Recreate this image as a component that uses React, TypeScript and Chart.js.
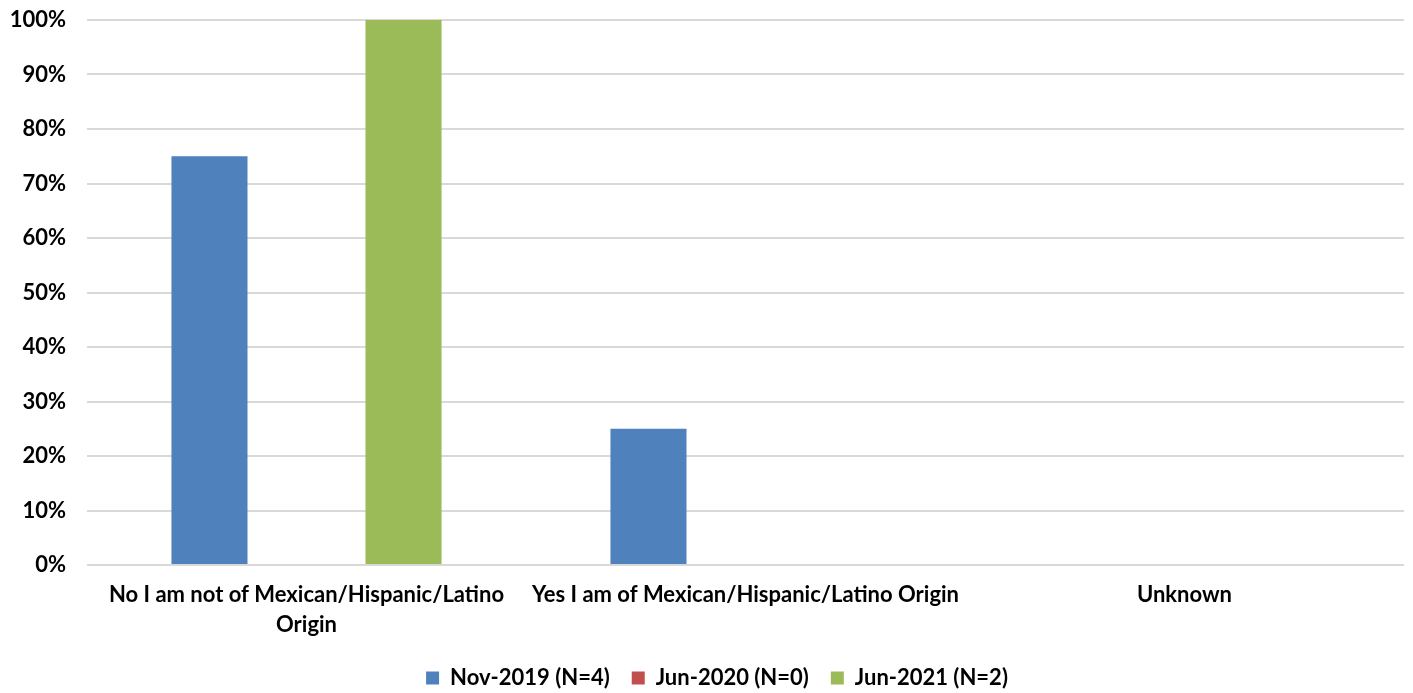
import React, { useEffect, useRef } from "react";
import { Chart, registerables } from "chart.js";

Chart.register(...registerables);

const categories: (string | string[])[] = [
  ["No I am not of Mexican/Hispanic/Latino", "Origin"],
  "Yes I am of Mexican/Hispanic/Latino Origin",
  "Unknown",
];
const seriesNames = ["Nov-2019 (N=4)", "Jun-2020 (N=0)", "Jun-2021 (N=2)"];
const nov2019 = [75, 25, 0];
const jun2020 = [0, 0, 0];
const jun2021 = [100, 0, 0];
const colors = ["#4F81BD", "#C0504D", "#9BBB59"];
const yTicks = [0, 10, 20, 30, 40, 50, 60, 70, 80, 90, 100];

const FONT = "Lato, 'Open Sans', sans-serif";
const LEGEND_HEIGHT = 48;
const LEGEND_SHIFT = 15;

const legendHeightPlugin = {
  id: "legendHeight",
  beforeLayout(chart: any) {
    const lg = chart.legend;
    if (lg && !lg.__patched) {
      const orig = lg.fit;
      lg.fit = function () {
        orig.call(this);
        this.height = LEGEND_HEIGHT;
      };
      lg.__patched = true;
    }
  },
  afterLayout(chart: any) {
    const lg = chart.legend;
    if (lg) {
      lg.left += LEGEND_SHIFT;
      lg.right += LEGEND_SHIFT;
    }
  },
};

export default function App() {
  const ref = useRef<HTMLCanvasElement | null>(null);
  useEffect(() => {
    if (!ref.current) return;
    const values = [nov2019, jun2020, jun2021];
    const chart = new Chart(ref.current, {
      type: "bar",
      data: {
        labels: categories,
        datasets: seriesNames.map((n, i) => ({
          label: n,
          data: values[i],
          backgroundColor: colors[i],
          borderWidth: 0,
          categoryPercentage: 0.663,
          barPercentage: 0.784,
        })),
      },
      plugins: [legendHeightPlugin],
      options: {
        animation: false,
        responsive: false,
        maintainAspectRatio: false,
        layout: { padding: { top: 20, right: 9, bottom: 0, left: 0 } },
        plugins: {
          legend: {
            position: "bottom",
            labels: {
              boxWidth: 13,
              boxHeight: 13,
              padding: 22,
              color: "#000",
              font: { family: FONT, size: 22, weight: "bold" },
            },
          },
          tooltip: { enabled: false },
        },
        scales: {
          x: {
            grid: { display: false, drawTicks: false },
            border: { display: false },
            ticks: {
              color: "#000",
              maxRotation: 0,
              autoSkip: false,
              padding: 15,
              font: { family: FONT, size: 22, weight: "bold", lineHeight: 1.36 },
            },
            afterFit: (s: any) => {
              s.height = 80;
            },
          },
          y: {
            min: 0,
            max: 100,
            afterBuildTicks: (s: any) => {
              s.ticks = yTicks.map((v) => ({ value: v }));
            },
            grid: { color: "#D9D9D9", lineWidth: 2, drawTicks: false },
            border: { display: false },
            ticks: {
              color: "#000",
              padding: 21,
              font: { family: FONT, size: 22, weight: "bold" },
              callback: (v: any) => v + "%",
            },
            afterFit: (s: any) => {
              s.width = 87;
              s.paddingTop = 12;
              s.paddingBottom = 12;
            },
          },
        },
      },
    });
    return () => chart.destroy();
  }, []);
  return (
    <div style={{ position: "fixed", left: 0, top: 0, width: 1413, height: 693, background: "#fff" }}>
      <canvas ref={ref} width={1413} height={693} style={{ width: 1413, height: 693 }} />
    </div>
  );
}
